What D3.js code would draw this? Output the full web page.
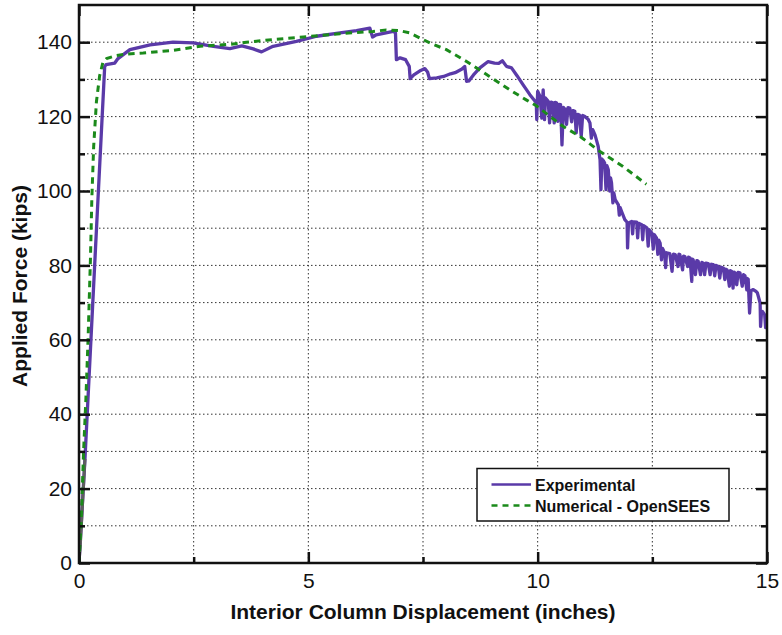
<!DOCTYPE html>
<html>
<head>
<meta charset="utf-8">
<script src="https://cdn.jsdelivr.net/npm/d3@7"></script>
<style>
  html, body { margin: 0; padding: 0; background: #fff; }
  svg { display: block; }
  text { font-family: "Liberation Sans", Arial, Helvetica, sans-serif; fill: #111; }
</style>
</head>
<body>
<svg id="chart" width="782" height="635"></svg>
<script>
// ---------------- data ----------------
const expX = [0,0.13,0.39,0.56,0.59,0.78,0.85,1.11,1.55,2.05,2.49,2.93,3.29,3.55,3.80,3.98,4.23,4.74,5.18,5.69,6.05,6.34,6.40,6.48,6.85,6.90,6.92,7.0,7.12,7.2,7.22,7.3,7.45,7.54,7.6,7.64,7.8,7.95,8.1,8.2,8.35,8.41,8.45,8.5,8.6,8.74,8.92,9.06,9.15,9.23,9.32,9.43,9.55,9.68,9.83,9.97,
  9.98,10.0,10.05,10.09,10.12,10.15,10.17,10.23,10.26,10.29,10.33,10.36,10.38,10.41,10.44,10.46,10.50,10.53,10.56,10.60,10.63,10.66,10.70,10.74,10.77,10.81,10.84,10.87,10.91,10.95,10.98,11.03,11.10,11.14,11.17,11.2,11.25,11.32,11.36,11.38,11.40,11.43,11.46,11.49,11.51,11.54,11.57,11.59,11.61,11.64,11.66,11.69,11.76,11.78,11.80,11.83,11.90,11.95,11.96,11.98,12.05,12.07,12.09,12.16,12.18,12.2,12.27,12.29,12.31,12.38,12.41,12.43,12.49,12.52,12.54,12.59,12.62,12.64,12.67,12.70,12.72,12.77,12.79,12.81,12.88,12.93,12.96,13.0,13.06,13.08,13.1,13.16,13.18,13.21,13.27,13.29,13.32,13.36,13.37,13.39,13.44,13.47,13.50,13.55,13.58,13.61,13.64,13.67,13.72,13.76,13.79,13.83,13.86,13.89,13.94,13.97,14.0,14.05,14.08,14.10,14.13,14.18,14.20,14.23,14.26,14.28,14.30,14.34,14.37,14.41,14.46,14.49,14.52,14.56,14.57,14.59,14.62,14.65,14.70,14.76,14.79,14.85,14.86,14.88,14.90,14.95,14.97,15.0];
const expY = [0,28,92,133.4,134,134.4,135.6,138.0,139.3,140.0,139.8,138.9,138.3,139.0,138.2,137.4,138.9,140.2,141.6,142.5,143.1,143.8,141.4,142.0,142.9,142.5,135.3,135.8,135.3,133.5,130.2,131.2,132.4,132.9,132.0,130.2,130.4,130.8,131.5,131.8,132.8,133.5,129.5,129.6,131.2,133.1,134.8,134.4,134.3,135.0,133.5,133.1,131.0,128.6,125.9,123.7,
  119.2,126.8,125.5,119.6,127.2,119.2,125,124.1,118.3,123.9,123.7,118.3,123.8,123.7,118.7,123.3,123.2,112.4,122.5,121.9,117.9,122.4,122.3,118.6,121.6,121.4,115.6,120.6,120.4,114.7,120.3,120.0,119.3,118.3,114.2,116.5,115.1,112.0,108.4,100.4,108.6,108.2,107.5,100.4,106.8,105.7,100.0,103.5,102.2,96.8,99.5,97.7,96.3,93.5,95.5,94.5,92.3,91.6,84.7,91.4,91.8,88.5,91.7,91.6,87.4,91.3,90.9,86.9,90.7,90.1,85.2,89.6,88.7,84.4,88.3,87.4,83.0,86.8,86.0,81.5,84.6,83.3,79.4,83.4,83.2,78.4,83.0,82.9,79.7,83.0,82.9,78.8,82.5,82.4,79.7,82.2,82.0,75.7,81.7,81.5,77.5,81.3,81.1,77.5,80.8,80.6,77.5,80.6,80.5,77.5,80.3,80.2,77.2,80.0,79.7,76.6,79.5,79.3,76.2,79.0,78.8,74.4,78.6,78.4,73.9,78.2,78.0,74.8,78.1,78.0,74.4,77.5,77.2,73.4,76.5,76.3,67.2,73.2,73.5,73.0,72.6,69.9,63.6,67.4,67.6,66.7,63.3,65.5];

const grayX = [0, 0.03, 0.13];
const grayY = [0, 5, 28];

const numX = [0,0.05,0.1,0.15,0.2,0.25,0.28,0.32,0.38,0.45,0.52,0.6,0.8,1.0,1.4,2.05,2.64,3.36,3.65,4.3,4.89,5.69,6.41,6.7,6.99,7.21,7.65,8.01,8.45,8.95,9.39,9.75,9.97,10.55,10.92,11.35,11.86,12.37];
const numY = [0,12,30,44,61,82,98,112,124,131,134.5,135.6,136.4,136.8,137.1,137.8,138.9,139.5,140.0,140.8,141.4,142.3,142.9,143.3,143.1,142.5,139.8,138.0,134.8,130.8,127.2,124.5,122.9,117.4,114.7,110.7,106.6,101.8];

const xMajorTicks = [0, 5, 10, 15];
const xMinorTicks = [2.5, 7.5, 12.5];
const yMajorTicks = [0, 20, 40, 60, 80, 100, 120, 140];
const yMinorTicks = [10, 30, 50, 70, 90, 110, 130];
const xGrid = [2.5, 5, 7.5, 10, 12.5];
const yGrid = [10, 20, 30, 40, 50, 60, 70, 80, 90, 100, 110, 120, 130, 140];

const seriesNames = ["Experimental", "Numerical - OpenSEES"];
const xTitle = "Interior Column Displacement (inches)";
const yTitle = "Applied Force (kips)";

// ---------------- drawing ----------------
const purple = "#5a3aa8";
const green = "#1b8a1b";
const svg = d3.select("#chart");
const L = 79, R = 767, T = 5, B = 563;
const x = d3.scaleLinear().domain([0, 15]).range([L, R]);
const y = d3.scaleLinear().domain([0, 150]).range([B, T]);

svg.append("defs").append("clipPath").attr("id", "clip")
  .append("rect").attr("x", L).attr("y", T).attr("width", R - L).attr("height", B - T);

// grid
const grid = svg.append("g");
grid.selectAll("line.gx").data(xGrid).enter().append("line")
  .attr("x1", d => x(d)).attr("x2", d => x(d)).attr("y1", T).attr("y2", B)
  .attr("stroke", "#333").attr("stroke-width", 1).attr("stroke-dasharray", "1.5,2.5");
grid.selectAll("line.gy").data(yGrid).enter().append("line")
  .attr("y1", d => y(d)).attr("y2", d => y(d)).attr("x1", L).attr("x2", R)
  .attr("stroke", "#333").attr("stroke-width", 1).attr("stroke-dasharray", "1.5,2.5");

// lines
const plot = svg.append("g").attr("clip-path", "url(#clip)");
const line = d3.line().x(d => x(d[0])).y(d => y(d[1]));
const expData = expX.map((v, i) => [v, expY[i]]);
const numData = numX.map((v, i) => [v, numY[i]]);
const grayData = grayX.map((v, i) => [v, grayY[i]]);

plot.append("path").datum(expData).attr("d", line)
  .attr("fill", "none").attr("stroke", purple).attr("stroke-width", 3.3)
  .attr("stroke-linejoin", "round");
plot.append("path").datum(grayData).attr("d", line)
  .attr("fill", "none").attr("stroke", "#5e5e5e").attr("stroke-width", 3);
plot.append("path").datum(numData).attr("d", line)
  .attr("fill", "none").attr("stroke", green).attr("stroke-width", 3)
  .attr("stroke-dasharray", "6.5,5");

// axes
function styleAxis(g) {
  g.select(".domain").remove();
  g.selectAll(".tick line").attr("stroke", "#111").attr("stroke-width", 2.5);
  g.selectAll(".tick text").attr("font-size", 21).attr("fill", "#111")
    .attr("font-family", "'Liberation Sans', Arial, Helvetica, sans-serif");
}
svg.append("g").attr("transform", `translate(0,${B})`)
  .call(d3.axisBottom(x).tickValues(xMajorTicks).tickFormat(d3.format("d")).tickSize(-11).tickPadding(10))
  .call(styleAxis);
svg.append("g").attr("transform", `translate(0,${B})`)
  .call(d3.axisBottom(x).tickValues(xMinorTicks).tickFormat("").tickSize(-6))
  .call(styleAxis);
svg.append("g").attr("transform", `translate(0,${T})`)
  .call(d3.axisTop(x).tickValues(xMajorTicks).tickFormat("").tickSize(-11))
  .call(styleAxis);
svg.append("g").attr("transform", `translate(0,${T})`)
  .call(d3.axisTop(x).tickValues(xMinorTicks).tickFormat("").tickSize(-6))
  .call(styleAxis);
svg.append("g").attr("transform", `translate(${L},0)`)
  .call(d3.axisLeft(y).tickValues(yMajorTicks).tickFormat(d3.format("d")).tickSize(-11).tickPadding(7))
  .call(styleAxis);
svg.append("g").attr("transform", `translate(${L},0)`)
  .call(d3.axisLeft(y).tickValues(yMinorTicks).tickFormat("").tickSize(-6))
  .call(styleAxis);
svg.append("g").attr("transform", `translate(${R},0)`)
  .call(d3.axisRight(y).tickValues(yMajorTicks).tickFormat("").tickSize(-11))
  .call(styleAxis);
svg.append("g").attr("transform", `translate(${R},0)`)
  .call(d3.axisRight(y).tickValues(yMinorTicks).tickFormat("").tickSize(-6))
  .call(styleAxis);

// frame
svg.append("rect").attr("x", L).attr("y", T).attr("width", R - L).attr("height", B - T)
  .attr("fill", "none").attr("stroke", "#111").attr("stroke-width", 2.5);

// titles
svg.append("text").attr("x", (L + R) / 2).attr("y", 619).attr("text-anchor", "middle")
  .attr("font-size", 21).attr("font-weight", "bold").text(xTitle);
svg.append("text").attr("transform", `translate(27,${(T + B) / 2 + 2}) rotate(-90)`)
  .attr("text-anchor", "middle").attr("font-size", 21).attr("font-weight", "bold").text(yTitle);

// legend
const lg = svg.append("g");
lg.append("rect").attr("x", 477).attr("y", 468.5).attr("width", 252).attr("height", 52.5)
  .attr("fill", "#fff").attr("stroke", "#111").attr("stroke-width", 1.5);
const legendStyles = [
  { color: purple, dash: null, yy: 484.5 },
  { color: green, dash: "6,5", yy: 505.5 }
];
seriesNames.forEach((name, i) => {
  const s = legendStyles[i];
  const ln = lg.append("line").attr("x1", 491.5).attr("x2", 531).attr("y1", s.yy).attr("y2", s.yy)
    .attr("stroke", s.color).attr("stroke-width", 2.5);
  if (s.dash) ln.attr("stroke-dasharray", s.dash);
  lg.append("text").attr("x", 535).attr("y", s.yy + 6).attr("font-size", 16)
    .attr("font-weight", "bold").text(name);
});
</script>
</body>
</html>
